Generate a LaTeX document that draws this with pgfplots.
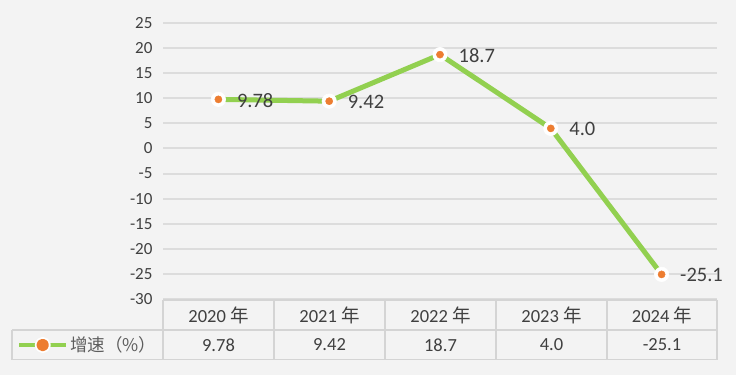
\documentclass[border=0pt]{standalone}
\usepackage{pgfplots}
\pgfplotsset{compat=1.18}
\usepackage{fontspec}
\setmainfont{Carlito}
\newfontfamily\cjk{Noto Sans CJK SC}
\definecolor{bg}{HTML}{F3F3F3}
\definecolor{gridc}{HTML}{DCDCDC}
\definecolor{tabc}{HTML}{D4D4D4}
\definecolor{txt}{HTML}{404040}
\definecolor{lgreen}{HTML}{92D050}
\definecolor{orng}{HTML}{ED7D31}
\pgfplotstableread{
x y l
1 9.78 9.78
2 9.42 9.42
3 18.7 18.7
4 4.0 4.0
5 -25.1 -25.1
}\data
\begin{document}
\begin{tikzpicture}[x=1pt,y=1pt]
\fill[bg] (0,0) rectangle (736,375);
\useasboundingbox (0,0) rectangle (736,375);
\begin{axis}[at={(163pt,76pt)}, anchor=south west, scale only axis,
  width=554pt, height=276pt,
  xmin=0.5, xmax=5.5, ymin=-30, ymax=25,
  ytick={-30,-25,...,25}, xtick=\empty,
  axis line style={draw=none}, ymajorgrids,
  grid style={gridc, line width=2pt},
  major tick length=0pt, clip=false,
  /pgf/number format/assume math mode=true,
  yticklabel style={font=\fontsize{17}{17}\selectfont, text=txt, xshift=-7pt},
  legend style={at={(-0.2635,-0.1667)}, anchor=west, draw=none, fill=none,
    inner sep=0pt, font=\cjk\fontsize{17.5}{17.5}\selectfont, text=txt!85},
  legend image code/.code={\draw[lgreen, line width=4pt] (0pt,0pt) -- (47pt,0pt);
     \fill[white] (23.5pt,0pt) circle (5.6pt);
     \fill[orng] (23.5pt,0pt) circle (3.7pt);},
]
\addplot[lgreen, line width=5pt, line join=round, mark=*,
  mark options={fill=white, draw=white, line width=0.6pt, mark size=7.2pt},
  nodes near coords, point meta=explicit symbolic,
  every node near coord/.append style={anchor=west, xshift=15pt, yshift=-1pt,
    font=\fontsize{20.5}{20.5}\selectfont, text=txt}]
  table[meta=l] {\data};
\addlegendentry{增速（\%）}
\addplot[only marks, mark=*,
  mark options={fill=orng, draw=orng, line width=0.4pt, mark size=3.6pt}, forget plot]
  table {\data};
\end{axis}
% data table
\draw[tabc, line width=1.8pt] (163,75) -- (717,75);
\draw[tabc, line width=1.8pt] (12,45) -- (717,45);
\draw[tabc, line width=1.8pt] (12,15.5) -- (717,15.5);
\draw[tabc, line width=1.8pt] (12,45) -- (12,15.5);
\foreach \xx in {163,274,385,496,607,717} {
  \draw[tabc, line width=1.8pt] (\xx,75) -- (\xx,15.5);
}
\foreach \xx/\yr/\v in {218.5/2020/9.78, 329.5/2021/9.42, 440.5/2022/18.7, 551.5/2023/4.0, 662/2024/-25.1} {
  \node[font=\fontsize{18.5}{18.5}\selectfont, text=txt] at (\xx,60) {\yr\ {\cjk 年}};
  \node[font=\fontsize{18.5}{18.5}\selectfont, text=txt] at (\xx,30) {\v};
}
\end{tikzpicture}
\end{document}
